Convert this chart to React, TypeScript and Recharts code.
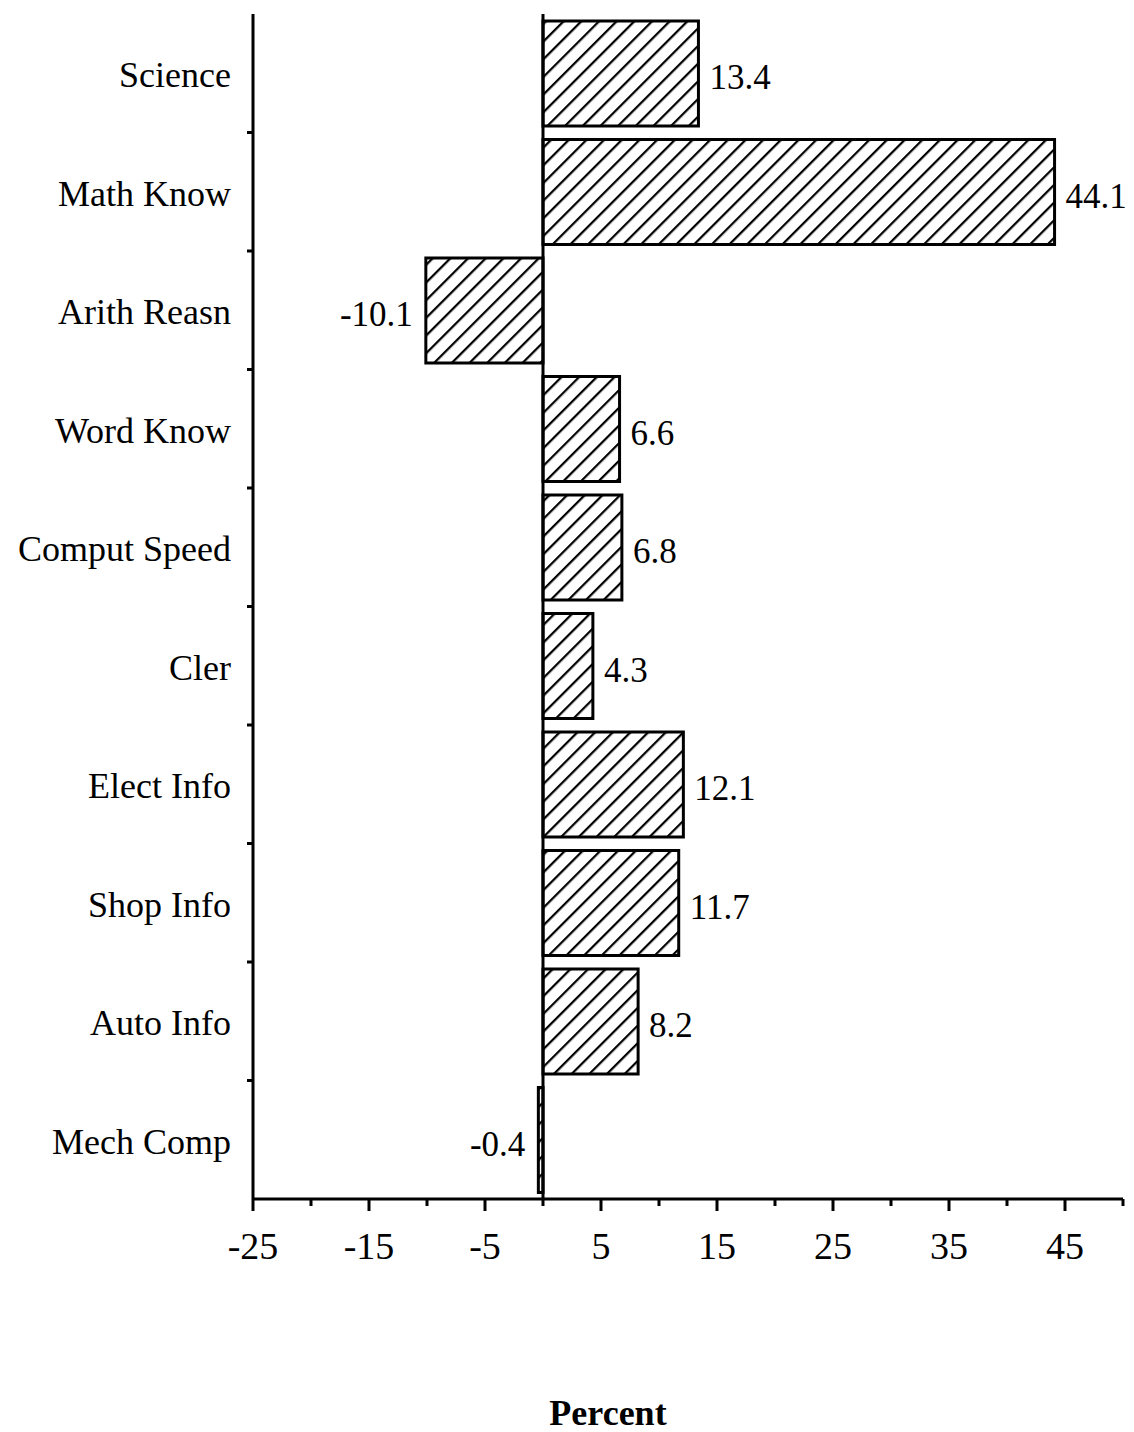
import React from "react";
import { BarChart, Bar, XAxis, YAxis, ReferenceLine, LabelList, Label } from "recharts";

const categories = [
  "Science",
  "Math Know",
  "Arith Reasn",
  "Word Know",
  "Comput Speed",
  "Cler",
  "Elect Info",
  "Shop Info",
  "Auto Info",
  "Mech Comp",
];
const values = [13.4, 44.1, -10.1, 6.6, 6.8, 4.3, 12.1, 11.7, 8.2, -0.4];
const xTicks = [-25, -20, -15, -10, -5, 0, 5, 10, 15, 20, 25, 30, 35, 40, 45, 50];
const labeledTicks = [-25, -15, -5, 5, 15, 25, 35, 45];

const data = categories.map((name, i) => ({ name, value: values[i] }));

const W = 1134;
const H = 1432;
const FONT = "'Liberation Serif', 'Times New Roman', serif";
const MARGIN = { top: 14, right: 11, left: 0, bottom: 0 };
const X_AXIS_H = 233;
const Y_AXIS_W = 253;

const XTick = (props: any) => {
  const { x, y, payload } = props;
  const v = payload.value;
  const major = labeledTicks.includes(v);
  return (
    <g>
      <line x1={x} x2={x} y1={y} y2={y + (major ? 12 : 7)} stroke="#000" strokeWidth={3} />
      {major && (
        <text
          x={x}
          y={y + 47}
          textAnchor="middle"
          dominantBaseline="central"
          fontFamily={FONT}
          fontSize={38}
          fill="#000"
        >
          {v}
        </text>
      )}
    </g>
  );
};

const YTick = (props: any) => {
  const { x, y, payload, index } = props;
  const fallback = (H - MARGIN.top - MARGIN.bottom - X_AXIS_H) / categories.length / 2;
  const off = payload && typeof payload.offset === "number" && payload.offset > 0 ? payload.offset : fallback;
  const last = index === categories.length - 1;
  return (
    <g>
      <text
        x={x - 22}
        y={y + 2}
        textAnchor="end"
        dominantBaseline="central"
        fontFamily={FONT}
        fontSize={36}
        fill="#000"
      >
        {payload.value}
      </text>
      {!last && <line x1={x - 6} x2={x} y1={y + off} y2={y + off} stroke="#000" strokeWidth={3} />}
    </g>
  );
};

const ValueLabel = (props: any) => {
  const { x, y, width, height, value } = props;
  const left = Math.min(x, x + width);
  const right = Math.max(x, x + width);
  const neg = value < 0;
  return (
    <text
      x={neg ? left - 13 : right + 11}
      y={y + height / 2 + 4}
      textAnchor={neg ? "end" : "start"}
      dominantBaseline="central"
      fontFamily={FONT}
      fontSize={35}
      fill="#000"
    >
      {value}
    </text>
  );
};

export default function App() {
  return (
    <div style={{ position: "absolute", left: 0, top: 0, width: W, height: H, background: "#fff" }}>
      <BarChart width={W} height={H} data={data} layout="vertical" margin={MARGIN}>
        <defs>
          <pattern
            id="hatch"
            patternUnits="userSpaceOnUse"
            width={12.5}
            height={12.5}
            patternTransform="rotate(45)"
          >
            <rect width={12.5} height={12.5} fill="#fff" />
            <line x1={0} y1={0} x2={0} y2={12.5} stroke="#000" strokeWidth={4.5} />
          </pattern>
        </defs>
        <XAxis
          type="number"
          domain={[-25, 50]}
          ticks={xTicks}
          interval={0}
          height={X_AXIS_H}
          axisLine={{ stroke: "#000", strokeWidth: 3 }}
          tickLine={false}
          tickSize={0}
          tickMargin={0}
          tick={<XTick />}
        >
          <Label
            value="Percent"
            position="insideBottom"
            offset={7}
            dx={-80}
            style={{ fontFamily: FONT, fontSize: 36, fontWeight: "bold", fill: "#000" }}
          />
        </XAxis>
        <YAxis
          type="category"
          dataKey="name"
          width={Y_AXIS_W}
          interval={0}
          axisLine={{ stroke: "#000", strokeWidth: 3 }}
          tickLine={false}
          tickSize={0}
          tickMargin={0}
          tick={<YTick />}
        />
        <ReferenceLine x={0} stroke="#000" strokeWidth={3} />
        <Bar
          dataKey="value"
          barSize={105}
          fill="url(#hatch)"
          stroke="#000"
          strokeWidth={3}
          isAnimationActive={false}
        >
          <LabelList dataKey="value" content={<ValueLabel />} />
        </Bar>
      </BarChart>
    </div>
  );
}
